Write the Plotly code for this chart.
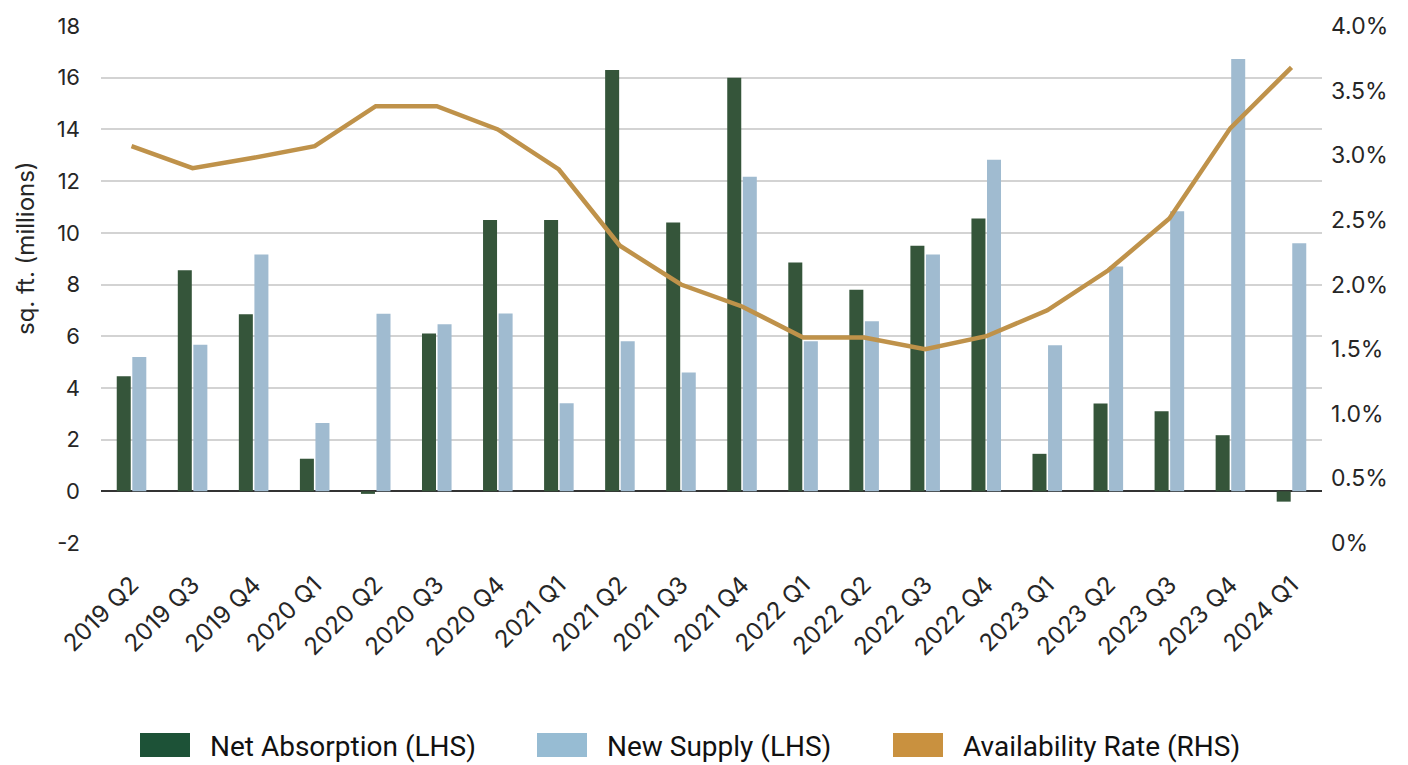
import plotly.graph_objects as go

# Quarterly industrial market figures
quarters = ["2019 Q2", "2019 Q3", "2019 Q4", "2020 Q1", "2020 Q2", "2020 Q3", "2020 Q4",
            "2021 Q1", "2021 Q2", "2021 Q3", "2021 Q4", "2022 Q1", "2022 Q2", "2022 Q3",
            "2022 Q4", "2023 Q1", "2023 Q2", "2023 Q3", "2023 Q4", "2024 Q1"]

net_absorption = [4.45, 8.55, 6.85, 1.26, -0.1, 6.1, 10.5, 10.5, 16.3, 10.4,
                  16.0, 8.85, 7.8, 9.5, 10.55, 1.45, 3.4, 3.1, 2.17, -0.4]

new_supply = [5.2, 5.67, 9.16, 2.64, 6.87, 6.46, 6.88, 3.41, 5.8, 4.6,
              12.17, 5.8, 6.58, 9.16, 12.83, 5.65, 8.7, 10.83, 16.72, 9.6]

availability_rate = [3.07, 2.90, 2.98, 3.07, 3.38, 3.38, 3.20, 2.89, 2.30, 2.00,
                     1.83, 1.59, 1.59, 1.50, 1.60, 1.80, 2.11, 2.51, 3.21, 3.68]

left_ticks = [-2, 0, 2, 4, 6, 8, 10, 12, 14, 16, 18]
left_tick_text = ["-2", "0", "2", "4", "6", "8", "10", "12", "14", "16", "18"]
right_ticks = [0, 0.5, 1.0, 1.5, 2.0, 2.5, 3.0, 3.5, 4.0]
right_tick_text = ["0%", "0.5%", "1.0%", "1.5%", "2.0%", "2.5%", "3.0%", "3.5%", "4.0%"]

legend_names = ["Net Absorption (LHS)", "New Supply (LHS)", "Availability Rate (RHS)"]
legend_colors = ["#1D5237", "#97BCD3", "#C9913F"]

GREEN = "#35553A"
BLUE = "#A0BBD0"
GOLD = "#BF924A"
TEXT = "#262626"
FONT = "Inter, sans-serif"

W, H = 1408, 765
ML, MR, MT, MB = 101, 86, 26, 222
plot_w = W - ML - MR
plot_h = H - MT - MB


def px_x(px):
    return (px - ML) / plot_w


def px_y(py):
    return (H - MB - py) / plot_h


fig = go.Figure()
fig.add_trace(go.Bar(x=quarters, y=net_absorption, name=legend_names[0],
                     marker=dict(color=GREEN, line=dict(width=0)), yaxis="y"))
fig.add_trace(go.Bar(x=quarters, y=new_supply, name=legend_names[1],
                     marker=dict(color=BLUE, line=dict(width=0)), yaxis="y"))
fig.add_trace(go.Scatter(x=quarters, y=availability_rate, name=legend_names[2],
                         mode="lines", line=dict(color=GOLD, width=4.5),
                         yaxis="y2"))

# Custom legend: wide colour swatches followed by labels
shapes = []
annotations = []
swatch_left = [140, 537, 893]
for name, color, left in zip(legend_names, legend_colors, swatch_left):
    shapes.append(dict(type="rect", xref="paper", yref="paper",
                       x0=px_x(left), x1=px_x(left + 50),
                       y0=px_y(757), y1=px_y(733),
                       fillcolor=color, line=dict(width=0)))
    annotations.append(dict(xref="paper", yref="paper", x=px_x(left + 68), y=px_y(746),
                            xanchor="left", yanchor="middle", showarrow=False,
                            text=name, font=dict(family="Roboto, sans-serif", size=28, color="#111")))

annotations.append(dict(xref="paper", yref="paper", x=px_x(25), y=px_y(248),
                        xanchor="center", yanchor="middle", showarrow=False,
                        textangle=-90, text="sq. ft. (millions)",
                        font=dict(family=FONT, size=24, color=TEXT)))

fig.update_layout(
    width=W, height=H,
    margin=dict(l=ML, r=MR, t=MT, b=MB),
    paper_bgcolor="white", plot_bgcolor="white",
    barmode="group", bargap=0.49, bargroupgap=0.1,
    showlegend=False,
    font=dict(family=FONT, color=TEXT),
    xaxis=dict(type="category", tickangle=-45, showgrid=False, showline=False,
               ticks="", tickfont=dict(size=24, color=TEXT), ticklabelstandoff=22),
    yaxis=dict(range=[-2, 18], tickvals=left_ticks, ticktext=left_tick_text,
               showgrid=True, gridcolor="#D3D3D3", gridwidth=1.5, zeroline=True,
               zerolinecolor="#333333", zerolinewidth=2, showline=False,
               ticks="", tickfont=dict(size=22, color=TEXT), ticklabelstandoff=20),
    yaxis2=dict(range=[0, 4], overlaying="y", side="right", tickvals=right_ticks,
                ticktext=right_tick_text, showgrid=False, zeroline=False,
                showline=False, ticks="", tickfont=dict(size=23, color=TEXT),
                ticklabelstandoff=8),
    shapes=shapes,
    annotations=annotations,
)

fig.write_html("out.html")
